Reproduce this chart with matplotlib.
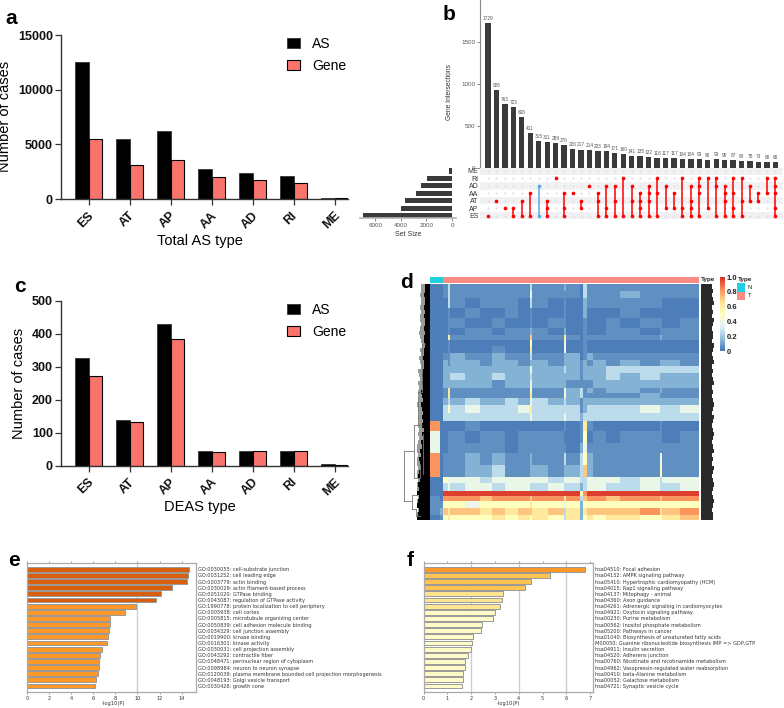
import matplotlib
matplotlib.use('Agg')
import numpy as np
import matplotlib.pyplot as plt
from matplotlib.colors import LinearSegmentedColormap
from matplotlib.transforms import ScaledTranslation

plt.rcParams['font.family'] = ['Liberation Sans', 'DejaVu Sans']

W, H = 784, 708

# panels a and c
as_types = ['ES', 'AT', 'AP', 'AA', 'AD', 'RI', 'ME']
total_as = [12500, 5500, 6250, 2780, 2370, 2130, 100]
total_gene = [5480, 3120, 3560, 2040, 1720, 1440, 80]
deas_as = [328, 139, 429, 44, 46, 46, 4]
deas_gene = [271, 133, 386, 42, 44, 45, 3]

# panel b
set_names = ['ME', 'RI', 'AD', 'AA', 'AT', 'AP', 'ES']
set_sizes = [260, 1970, 2400, 2800, 3650, 4000, 6980]
inter_sizes = [1729, 926, 763, 723, 608, 411, 315, 311, 289, 270, 226, 217, 214, 203, 194,
               171, 160, 141, 135, 122, 118, 117, 117, 104, 104, 99, 96, 99, 95, 87, 80, 75, 73, 68, 68]
inter_sets = ['ES', 'AT', 'AP', 'AP ES', 'AT ES', 'AA ES', 'AD ES', 'AT AP ES', 'RI', 'AA AP ES',
              'AA', 'AT AP', 'AD', 'AA AT ES', 'AD AP ES', 'AD AT ES', 'RI ES', 'AD AT ES',
              'AA AT AP ES', 'AD AA AT ES', 'RI AA ES', 'AD AP', 'AA AP', 'RI AP ES', 'AD AT AP ES',
              'RI AD AA ES', 'RI AP', 'RI AD ES', 'AD AA AT ES', 'RI AA AP ES', 'RI AT ES', 'AD AT',
              'AA AT', 'RI AA', 'RI AD AA AP ES']
blue_column = 6

# panel d, levels read by eye, rows top to bottom
heat_levels = [0.02, 0.06, 0.14, 0.26, 0.38, 0.5, 0.62, 0.72, 0.82, 0.97]
heat_rows = [
    '0 0 1 3 1 1 1 1 1 1 3 1 1 2 1 0 3 1 1 1 1 1 1 1 1',
    '0 0 1 3 1 1 1 1 1 1 4 1 1 1 1 0 3 1 1 1 2 1 1 1 1',
    '0 0 0 3 1 0 1 1 1 0 3 1 0 1 0 0 2 1 1 1 1 1 1 0 0',
    '0 0 0 1 0 1 0 0 1 0 1 0 0 1 0 0 2 0 0 0 1 0 0 0 0',
    '0 0 0 1 1 0 0 1 0 0 1 0 1 1 0 0 1 0 0 1 0 1 1 0 1',
    '0 0 0 1 0 1 1 0 1 1 2 1 0 2 0 0 1 0 0 1 1 0 1 1 1',
    '0 0 0 6 1 1 1 1 1 1 7 1 1 6 1 0 1 1 1 1 1 1 2 1 1',
    '0 0 0 1 0 0 0 0 0 0 5 0 0 4 0 0 1 0 0 0 0 0 0 0 0',
    '0 0 0 1 0 0 0 1 0 0 6 0 0 4 0 0 1 0 0 0 0 0 0 0 0',
    '0 0 1 1 2 1 1 2 1 1 3 1 1 2 2 0 1 2 1 1 1 1 1 1 1',
    '0 0 2 1 2 2 1 2 2 1 2 2 1 2 2 1 2 1 2 1 2 1 2 2 1',
    '0 0 2 2 2 2 2 2 2 2 4 2 2 3 2 1 2 2 2 3 3 3 3 3 3',
    '0 0 2 2 3 2 2 3 2 2 3 2 2 2 2 1 2 2 2 3 2 3 2 2 2',
    '0 0 2 2 2 2 2 1 2 2 4 2 2 2 1 1 1 1 2 2 2 2 2 2 2',
    '0 0 1 6 1 1 1 1 1 1 5 1 1 4 2 3 1 2 1 2 2 1 2 1 1',
    '0 0 1 6 1 1 1 1 1 1 6 1 1 5 2 3 1 1 1 1 1 2 1 1 1',
    '0 0 2 3 2 3 2 2 3 2 4 3 2 3 2 1 2 2 2 2 2 2 2 2 2',
    '0 0 3 5 3 4 3 3 3 4 6 3 3 3 3 1 2 3 3 3 3 4 3 3 4',
    '0 0 3 3 3 3 3 3 3 3 4 3 3 4 3 2 3 3 3 3 3 3 3 3 3',
    '8 0 0 0 0 1 0 0 0 0 0 0 0 1 0 1 6 1 0 0 0 0 1 0 0',
    '4 0 0 1 1 0 1 1 0 1 1 1 1 0 0 1 5 0 1 0 1 1 1 0 1',
    '4 0 0 1 1 1 1 1 0 1 1 1 1 1 0 2 4 1 1 1 1 1 1 1 1',
    '8 0 1 1 1 2 1 2 1 1 2 1 1 3 1 3 5 2 1 1 1 1 4 1 1',
    '8 0 1 1 1 2 2 3 1 1 2 2 1 2 2 3 7 2 1 1 1 1 5 1 1',
    '0 0 5 4 4 4 3 4 4 4 4 4 3 4 4 3 3 4 4 4 3 4 3 4 4',
    '0 0 3 4 3 4 4 3 4 4 3 3 4 3 3 2 3 4 4 3 3 4 3 3 4',
    '0 0 9 9 9 9 9 9 9 9 9 9 9 9 9 5 8 9 9 9 9 9 9 9 9',
    '1 0 8 8 8 8 7 8 8 8 7 8 8 6 8 3 7 8 8 7 8 8 7 8 8',
    '1 1 5 5 5 4 5 5 5 5 6 5 5 4 5 2 5 5 5 5 5 5 5 5 5',
    '1 2 7 6 7 7 6 7 6 7 7 6 7 3 6 2 6 7 7 7 7 8 6 7 8',
    '0 1 5 6 5 5 5 6 5 6 5 6 5 3 6 2 5 6 5 6 6 5 5 6 7',
]
# sample and gene positions of the blocks above
heat_cols = [0, 10, 13, 18, 20, 35, 50, 62, 75, 88, 100, 102, 118, 134, 136, 150, 153, 157, 163, 176,
             190, 210, 230, 232, 250, 269]
heat_gene_edges = [0, 7, 14, 24, 34, 44, 51, 56, 62, 69, 76, 82, 89, 96, 104, 109, 114, 121, 129, 137,
                   147, 159, 169, 181, 193, 199, 207, 212, 217, 224, 231, 236]
normal_samples = 13
total_samples = 269
leaf_depth = [5, 5, 6, 5, 5, 6, 5, 6, 5, 5, 6, 5, 6, 6, 5, 6, 6, 7, 6, 6, 7, 8, 7, 8, 7, 9, 8, 7, 9, 8,
              7, 8, 7, 8, 6, 8, 7, 9, 8, 10, 9, 11, 10, 9, 11, 12, 10, 12, 11, 13, 11, 12, 13, 11, 12, 13]
gray_depth = [9, 9, 10, 9, 9, 10, 9, 10, 10, 9, 10, 11, 10, 9, 8, 10, 9, 11, 10, 9, 12, 11, 10, 12, 11, 12,
              11, 12, 13, 12, 11, 12, 11, 12, 11, 12, 11, 12, 13, 13, 12, 13, 13, 12, 13, 13, 12, 13, 13,
              13, 12, 13, 13, 12, 13, 13]
dendro_x = [[26, 26], [26, 16], [26, 18], [16, 16], [16, 8], [16, 11], [18, 18], [18, 13], [18, 14],
            [12, 12], [12, 8], [8, 8], [8, 5], [10, 10], [7, 7], [14, 14], [14, 10]]
dendro_y = [[167, 217], [167, 167], [217, 217], [141, 194], [141, 141], [194, 194], [211, 225],
            [211, 211], [225, 225], [108, 141], [108, 108], [60, 108], [60, 60], [180, 194], [150, 190],
            [225, 232], [232, 232]]
label_width = [11, 12, 11, 12, 13, 11, 12, 11, 13, 12, 11, 12, 12, 11, 13, 12, 11, 12, 13, 11, 12, 11, 12,
               13, 11, 12, 11, 12, 13, 12, 11, 13, 12, 11, 12, 13, 12, 11, 12, 13, 11, 12, 11, 13, 12, 11,
               12, 13, 12, 11, 12, 13, 12, 11, 12, 12]
type_names = ['N', 'T']

# panel e
go_terms = ['GO:0030055: cell-substrate junction', 'GO:0031252: cell leading edge', 'GO:0003779: actin binding',
            'GO:0030029: actin filament-based process', 'GO:0051020: GTPase binding',
            'GO:0043087: regulation of GTPase activity', 'GO:1990778: protein localization to cell periphery',
            'GO:0005938: cell cortex', 'GO:0005815: microtubule organizing center',
            'GO:0050839: cell adhesion molecule binding', 'GO:0034329: cell junction assembly',
            'GO:0019900: kinase binding', 'GO:0016301: kinase activity', 'GO:0030031: cell projection assembly',
            'GO:0043292: contractile fiber', 'GO:0048471: perinuclear region of cytoplasm',
            'GO:0098984: neuron to neuron synapse',
            'GO:0120039: plasma membrane bounded cell projection morphogenesis',
            'GO:0048193: Golgi vesicle transport', 'GO:0030426: growth cone']
go_values = [14.7, 14.55, 14.5, 13.1, 12.15, 11.65, 9.85, 8.9, 7.55, 7.5, 7.45, 7.3, 7.2, 6.8, 6.6, 6.55, 6.5,
             6.4, 6.25, 6.15]

# panel f
kegg_terms = ['hsa04510: Focal adhesion', 'hsa04152: AMPK signaling pathway',
              'hsa05410: Hypertrophic cardiomyopathy (HCM)', 'hsa04015: Rap1 signaling pathway',
              'hsa04137: Mitophagy - animal', 'hsa04360: Axon guidance',
              'hsa04261: Adrenergic signaling in cardiomyocytes', 'hsa04921: Oxytocin signaling pathway',
              'hsa00230: Purine metabolism', 'hsa00562: Inositol phosphate metabolism',
              'hsa05200: Pathways in cancer', 'hsa01040: Biosynthesis of unsaturated fatty acids',
              'M00050: Guanine ribonucleotide biosynthesis IMP => GDP,GTP', 'hsa04911: Insulin secretion',
              'hsa04520: Adherens junction', 'hsa00760: Nicotinate and nicotinamide metabolism',
              'hsa04962: Vasopressin-regulated water reabsorption', 'hsa00410: beta-Alanine metabolism',
              'hsa00052: Galactose metabolism', 'hsa04721: Synaptic vesicle cycle']
kegg_values = [6.8, 5.3, 4.5, 4.25, 3.35, 3.3, 3.22, 3.0, 2.9, 2.47, 2.43, 2.08, 2.04, 2.0, 1.88, 1.75, 1.74,
               1.66, 1.65, 1.62]


def px_axes(left, top, right, bottom):
    return fig.add_axes([left / W, 1 - bottom / H, (right - left) / W, (bottom - top) / H])


def px_text(x, y, s, **kw):
    kw.setdefault('ha', 'center')
    kw.setdefault('va', 'center')
    fig.text(x / W, 1 - y / H, s, **kw)


def count_bars(top, bottom, as_vals, gene_vals, ymax, yticks):
    ax = px_axes(61, top, 348, bottom)
    x = np.arange(len(as_types))
    ax.bar(x - 0.1625, as_vals, 0.325, color='black', edgecolor='#333333', linewidth=0.6, label='AS')
    ax.bar(x + 0.1625, gene_vals, 0.325, color='#fa746b', edgecolor='black', linewidth=0.8, label='Gene')
    ax.set_xlim(-0.676, 6.324)
    ax.set_ylim(0, ymax)
    ax.set_yticks(yticks)
    ax.set_xticks(x, as_types, rotation=45, ha='center')
    ax.tick_params(axis='y', length=4.3, width=0.9, color='#333333', labelsize=9, pad=1.5)
    ax.tick_params(axis='x', length=4.6, width=0.9, color='#333333', labelsize=9, pad=3)
    shift = ScaledTranslation(-3 / 100, 0, fig.dpi_scale_trans)
    for lab in ax.get_xticklabels():
        lab.set_transform(lab.get_transform() + shift)
    for lab in ax.get_xticklabels() + ax.get_yticklabels():
        lab.set_fontweight('bold')
        lab.set_color('#111111')
    for side in ['top', 'right']:
        ax.spines[side].set_visible(False)
    for side in ['left', 'bottom']:
        ax.spines[side].set_color('#333333')
        ax.spines[side].set_linewidth(1)
    ax.patch.set_alpha(0)
    ax.legend(loc='upper left', bbox_to_anchor=(0.787, 0.988), frameon=False, fontsize=10, handlelength=0.95,
              handleheight=0.7, labelspacing=0.55, handletextpad=0.85, borderpad=0, borderaxespad=0)
    return ax


fig = plt.figure(figsize=(W / 100, H / 100), dpi=100)

# a
count_bars(35, 199, total_as, total_gene, 15000, [0, 5000, 10000, 15000])
px_text(200, 241, 'Total AS type', fontsize=10.5)
px_text(5.5, 116, 'Number of cases', fontsize=10.5, rotation=90)

# c
count_bars(301, 465.7, deas_as, deas_gene, 500, [0, 100, 200, 300, 400, 500])
px_text(200, 506.5, 'DEAS type', fontsize=10.5)
px_text(19, 383, 'Number of cases', fontsize=10.5, rotation=90)

# b, intersection sizes
gray_txt = '#555555'
ax = px_axes(480, 0, 783, 167.7)
cols = np.arange(len(inter_sizes))
ax.bar(cols, inter_sizes, 0.63, color='#3b3b3b')
for i, v in enumerate(inter_sizes):
    ax.text(i, v + 25, str(v), fontsize=3.4, color=gray_txt, ha='center', va='bottom')
ax.set_xlim(-0.947, 34.9)
ax.set_ylim(0, 2001)
ax.set_xticks([])
ax.set_yticks([0, 500, 1000, 1500])
ax.tick_params(axis='y', length=2, width=0.5, labelsize=4.5, labelcolor=gray_txt, color='#555555', pad=1.5)
for side in ['top', 'right', 'bottom']:
    ax.spines[side].set_visible(False)
ax.spines['left'].set_color('#888888')
ax.set_ylabel('Gene Intersections', fontsize=4.8, color='#333333', labelpad=2)
ax.yaxis.set_label_coords(-0.09, 0.45)

# b, membership matrix
ax = px_axes(480, 167.5, 783, 219)
for r in range(0, len(set_names), 2):
    ax.axhspan(r - 0.5, r + 0.5, color='#f1f1f3', lw=0)
xx, yy = np.meshgrid(cols, np.arange(len(set_names)))
ax.scatter(xx.ravel(), yy.ravel(), s=2.2, color='#dedede', lw=0)
for i, members in enumerate(inter_sets):
    rows = [set_names.index(m) for m in members.split()]
    color = '#5aa9e6' if i == blue_column else '#ff0000'
    ax.plot([i, i], [min(rows), max(rows)], color=color, lw=1.1, solid_capstyle='butt')
    ax.scatter([i] * len(rows), rows, s=7, color=color, lw=0, zorder=3)
ax.set_xlim(-0.947, 34.9)
ax.set_ylim(6.47, -0.47)
ax.set_xticks([])
ax.set_yticks(range(len(set_names)), set_names)
ax.tick_params(axis='y', length=0, labelsize=5, labelcolor='#333333', pad=1)
for s in ax.spines.values():
    s.set_visible(False)

# b, set sizes
ax = px_axes(360, 167.5, 456, 218.3)
ax.barh(range(len(set_names)), set_sizes, 0.68, color='#3b3b3b')
ax.set_xlim(7187, -312)
ax.set_ylim(6.35, -0.47)
ax.set_yticks([])
ax.set_xticks([0, 2000, 4000, 6000])
ax.tick_params(axis='x', length=2, width=0.5, labelsize=4.5, labelcolor=gray_txt, color='#555555', pad=1.5)
for side in ['top', 'right', 'left']:
    ax.spines[side].set_visible(False)
ax.spines['bottom'].set_color('#b5b5b5')
ax.spines['bottom'].set_linewidth(1.2)
ax.patch.set_alpha(0)
px_text(407.7, 234, 'Set Size', fontsize=5, color='#333333')

# d, heatmap
pheat = LinearSegmentedColormap.from_list('pheat', ['#4575B4', '#91BFDB', '#E0F3F8', '#FFFFBF', '#FEE090',
                                                    '#FC8D59', '#D73027'])
heat = np.array([[heat_levels[int(d)] for d in r.split()] for r in heat_rows])
ax = px_axes(430.3, 284.3, 699.3, 520.3)
mesh = ax.pcolormesh(heat_cols, heat_gene_edges, heat, cmap=pheat, vmin=0, vmax=1)
ax.set_xlim(0, total_samples)
ax.set_ylim(236, 0)
ax.axis('off')

# d, annotation strip
ax = px_axes(430.3, 277, 699.3, 282.7)
ax.barh(0, normal_samples, 1, color='#1fd0e0')
ax.barh(0, total_samples - normal_samples, 1, left=normal_samples, color='#fb8c84')
ax.set_xlim(0, total_samples)
ax.set_ylim(-0.5, 0.5)
ax.axis('off')
px_text(701, 280, 'Type', fontsize=4.6, fontweight='bold', ha='left', color='#222222')

# d, dendrogram and unreadable row labels
ax = px_axes(403, 284.3, 430.3, 520.3)
band = 236 / len(leaf_depth)
ypos = (np.arange(len(leaf_depth)) + 0.5) * band
ax.barh(ypos, gray_depth, band, color='#9a9a9a')
ax.barh(ypos, leaf_depth, band, color='black')
for dx, dy in zip(dendro_x, dendro_y):
    ax.plot(dx, dy, color='#777777', lw=0.6)
ax.set_xlim(27.3, 0)
ax.set_ylim(236, 0)
ax.axis('off')

ax = px_axes(701, 284.3, 715, 520.3)
band = 236 / len(label_width)
ax.barh((np.arange(len(label_width)) + 0.5) * band, label_width, band, color='#2a2a2a')
ax.set_xlim(0, 14)
ax.set_ylim(236, 0)
ax.axis('off')

# d, colour bar and legend
cax = px_axes(720, 277, 725, 351)
cb = fig.colorbar(mesh, cax=cax, ticks=[0, 0.2, 0.4, 0.6, 0.8, 1.0])
cb.ax.set_yticklabels(['0', '0.2', '0.4', '0.6', '0.8', '1.0'])
cb.ax.tick_params(length=0, labelsize=5.5, pad=1)
cb.outline.set_visible(False)
for lab in cb.ax.get_yticklabels():
    lab.set_fontweight('bold')
    lab.set_color('#222222')
px_text(737.5, 279, 'Type', fontsize=4.6, fontweight='bold', ha='left', color='#222222')
ax = px_axes(737, 283, 745, 300)
ax.bar(0, 1, 1, bottom=1, color='#1fd0e0')
ax.bar(0, 1, 1, bottom=0, color='#fb8c84')
ax.set_xlim(-0.5, 0.5)
ax.set_ylim(0, 2)
ax.axis('off')
px_text(748, 287.5, type_names[0], fontsize=4.2, ha='left', color='#222222')
px_text(748, 295.5, type_names[1], fontsize=4.2, ha='left', color='#222222')


def enrich_bars(left, right, terms, values, colors, grid, xmax, xticks):
    ax = px_axes(left, 563.3, right, 692.3)
    for g in grid:
        ax.axvline(g, color='#cccccc', lw=1, zorder=0)
    ax.barh(range(len(values)), values, 0.8, color=colors, edgecolor='#999999', linewidth=0.7, zorder=2)
    ax.set_xlim(0, xmax)
    ax.set_ylim(20.03, -0.977)
    ax.set_xticks(xticks)
    ax.yaxis.tick_right()
    ax.set_yticks(range(len(terms)), terms, family='DejaVu Sans')
    ax.tick_params(axis='y', length=0, labelsize=3.65, labelcolor='#333333', pad=1.6)
    ax.tick_params(axis='x', length=1.5, width=0.5, labelsize=3.65, labelcolor='#333333', color='#777777', pad=1.5,
                   top=True, direction='out')
    for lab in ax.get_xticklabels():
        lab.set_family('DejaVu Sans')
    for s in ax.spines.values():
        s.set_color('#aaaaaa')
        s.set_linewidth(0.9)
    return ax


# e
go_colors = ['#d95f0e'] * 6 + ['#fe9929'] * 14
enrich_bars(27, 196, go_terms, go_values, go_colors, [10], 15.3, range(0, 15, 2))
px_text(113, 704, '-log10(P)', fontsize=3.7, family='DejaVu Sans', color='#333333')

# f
kegg_colors = ['#fe9929'] + ['#fec44f'] * 3 + ['#fee391'] * 3 + ['#fffbc8'] * 13
enrich_bars(423.7, 593, kegg_terms, kegg_values, kegg_colors, [2, 4, 6], 7.12, range(0, 8))
px_text(508.5, 704, '-log10(P)', fontsize=3.7, family='DejaVu Sans', color='#333333')

# panel letters
for x, y, s in [(11, 19, 'a'), (449, 15, 'b'), (20, 286, 'c'), (406, 282, 'd'), (14, 561, 'e'), (410, 560, 'f')]:
    px_text(x, y, s, fontsize=15, fontweight='bold', color='black')

fig.savefig('out.png', dpi=100)
